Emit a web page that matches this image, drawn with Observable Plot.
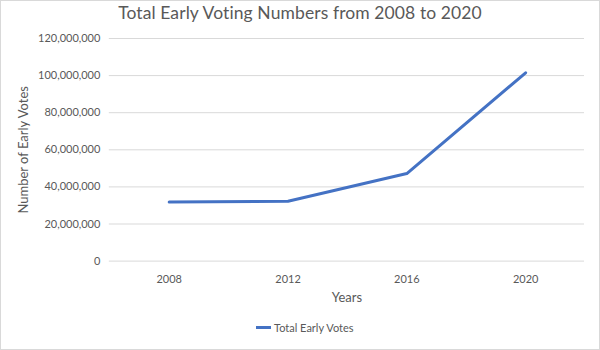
<!DOCTYPE html>
<html>
<head>
<meta charset="utf-8">
<script src="https://cdn.jsdelivr.net/npm/d3@7"></script>
<script src="https://cdn.jsdelivr.net/npm/@observablehq/plot@0.6"></script>
<style>
  html, body { margin: 0; padding: 0; background: #fff; }
  #chart {
    position: relative; width: 600px; height: 350px; box-sizing: border-box;
    border: 1px solid #d9d9d9; font-family: Lato, "Open Sans", sans-serif; color: #595959;
    overflow: hidden;
  }
  #title {
    position: absolute; top: 1px; left: 0; width: 100%; text-align: center;
    font-size: 17.5px; color: #595959; letter-spacing: 0.1px;
  }
  #plot { position: absolute; top: 29px; left: -1px; }
  #plot svg { overflow: visible; }
  #legend {
    position: absolute; top: 320px; left: 255px; font-size: 11px; color: #595959;
    display: flex; align-items: center;
  }
  #legend .sw { width: 15px; height: 3px; background: #4472C4; margin-right: 3px; }
</style>
</head>
<body>
<div id="chart">
  <div id="title">Total Early Voting Numbers from 2008 to 2020</div>
  <div id="plot"></div>
  <div id="legend"><span class="sw"></span><span>Total Early Votes</span></div>
</div>
<script>
const years = ["2008", "2012", "2016", "2020"];
const totalEarlyVotes = [31800000, 32300000, 47200000, 101500000];
const yTicks = [0, 20000000, 40000000, 60000000, 80000000, 100000000, 120000000];
const seriesName = "Total Early Votes";

const data = years.map((y, i) => ({year: y, value: totalEarlyVotes[i], series: seriesName}));
const fmt = d3.format(",");

const chart = Plot.plot({
  width: 600,
  height: 280,
  marginTop: 8,
  marginBottom: 49,
  marginLeft: 109,
  marginRight: 15,
  style: {fontFamily: "Lato, 'Open Sans', sans-serif", fontSize: "11px", color: "#595959", background: "transparent", overflow: "visible"},
  x: {type: "point", domain: years, padding: 0.5, label: null},
  y: {domain: [0, 120000000], label: null},
  marks: [
    Plot.ruleY(yTicks, {stroke: "#d9d9d9", strokeWidth: 1}),
    Plot.axisY({ticks: yTicks, tickFormat: d => fmt(d), tickSize: 0, tickPadding: 9, fontSize: 11, label: null}),
    Plot.axisX({tickSize: 0, tickPadding: 14, fontSize: 11, label: null}),
    Plot.text(["Years"], {frameAnchor: "bottom", lineAnchor: "middle", textAnchor: "middle", dy: 37, fontSize: 13, fill: "#595959"}),
    Plot.text(["Number of Early Votes"], {frameAnchor: "left", lineAnchor: "middle", textAnchor: "middle", dx: -86, rotate: -90, fontSize: 13, fill: "#595959"}),
    Plot.line(data, {x: "year", y: "value", stroke: "#4472C4", strokeWidth: 3, strokeLinejoin: "round"})
  ]
});
document.getElementById("plot").appendChild(chart);
</script>
</body>
</html>
